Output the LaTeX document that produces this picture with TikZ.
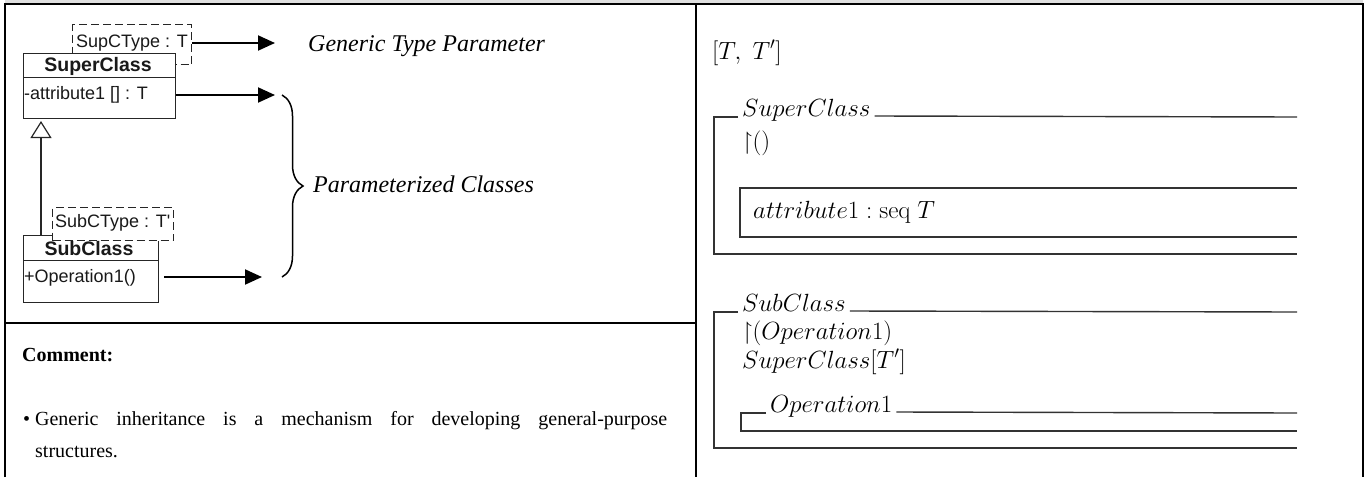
\documentclass[tikz,border=0pt]{standalone}
\usepackage{fontspec}
\usepackage{amssymb}
\usetikzlibrary{arrows.meta,decorations.pathreplacing}
\newfontfamily\umlfont{Liberation Sans}
\newfontfamily\seriffont{Liberation Serif}
\newcommand{\zfilt}{\mathord{\upharpoonright}}
\begin{document}
\begin{tikzpicture}[x=1pt,y=-1pt,
  frame/.style={line width=2pt,black},
  umlbox/.style={draw=black!85,line width=1pt,fill=white,inner sep=0pt},
  tmplbox/.style={draw=black!85,line width=1pt,fill=white,dash pattern=on 8pt off 4pt,inner sep=0pt},
  umltext/.style={font=\umlfont\fontsize{18}{20}\selectfont,inner sep=0pt,text=black!90},
  umlbold/.style={font=\umlfont\bfseries\fontsize{19.5}{22}\selectfont,inner sep=0pt,text=black!90},
  note/.style={font=\seriffont\itshape\fontsize{24}{28}\selectfont,inner sep=0pt,anchor=west},
  flow/.style={line width=2pt,-{Triangle[length=17pt,width=15pt]}},
  inherit/.style={line width=1.2pt,draw=black!85,-{Triangle[open,length=17pt,width=21pt]}},
  zline/.style={draw=black!80,line width=1.4pt},
  ztext/.style={font=\fontsize{25}{30}\selectfont,inner sep=0pt,anchor=base west,text=black}]
\useasboundingbox (0,0) rectangle (1364,477);

% table frame
\fill[gray!25] (5,0) rectangle (1363,3);
\draw[frame] (5,477) -- (5,4) -- (1363,4) -- (1363,477);
\draw[frame] (695.5,4) -- (695.5,477);
\draw[frame] (5,323) -- (695.5,323);

% ---- UML class diagram ----
% template parameter of SuperClass
\node[tmplbox,anchor=north west,minimum width=119pt,minimum height=40pt] (supT) at (72,24) {};
\node[umltext,anchor=west] (supTlabel) at (76,43) {SupCType : T};
% SuperClass
\node[umlbox,anchor=north west,minimum width=152pt,minimum height=65pt] (sup) at (23,53) {};
\draw[draw=black!85,line width=1pt] (23,77) -- (175,77);
\node[umlbold] (supname) at (98,66) {SuperClass};
\node[umltext,anchor=west] (supattr) at (24,95) {-attribute1 [] : T};

% SubClass
\node[umlbox,anchor=north west,minimum width=135pt,minimum height=67pt] (sub) at (23,235) {};
\draw[draw=black!85,line width=1pt] (23,260) -- (158,260);
\node[tmplbox,anchor=north west,minimum width=121pt,minimum height=33pt] (subT) at (52,207) {};
\node[umltext,anchor=west] (subTlabel) at (55,223) {SubCType : T'};
\node[umlbold] (subname) at (89,249) {SubClass};
\node[umltext,anchor=west] (subop) at (24,278) {+Operation1()};

% generalisation
\coordinate (inhtip) at (41,121);
\draw[inherit] (inhtip |- sub.north) -- (inhtip);

% annotations
\coordinate (gtp) at (275,43);
\coordinate (pc1) at (275,95);
\coordinate (pc2) at (262,277);
\draw[flow] (supT.east |- gtp) -- (gtp);
\draw[flow] (sup.east |- pc1) -- (pc1);
\draw[flow] ([xshift=5pt]sub.east |- pc2) -- (pc2);
\node[note] (gtplabel) at (308,46) {Generic Type Parameter};
\coordinate (bracetop) at (282,95);
\coordinate (bracebot) at (282,277);
\draw[line width=1.5pt,decorate,decoration={brace,amplitude=21pt}] (bracetop) -- (bracebot);
\node[note] (pclabel) at (313,184) {Parameterized Classes};

% comment
\node[anchor=west,inner sep=0pt,font=\seriffont\bfseries\fontsize{20}{24}\selectfont] (cmt) at (22,355) {Comment:};
\node[anchor=north west,inner sep=0pt,text width=632pt,align=justify,
      font=\seriffont\fontsize{20}{32}\selectfont] (cmtbody) at (35,411)
  {\hyphenpenalty=10000\makebox[0pt][r]{\textbullet\hspace{5pt}}Generic inheritance is a mechanism for developing general-purpose\linebreak structures.};

% ---- Z specification ----
\node[ztext] (params) at (712,59) {$[T,\; T']$};

% SuperClass schema
\node[ztext] (zsup) at (742,116) {$SuperClass$};
\draw[zline] (738,117) -- (714,117) -- (714,254) -- (1297,254);
\draw[zline] ([xshift=4pt]zsup.base east) -- (1297,117);
\node[ztext] (zsupvis) at (742,149) {$\zfilt()$};
\draw[zline] (1297,188) -- (740,188) -- (740,237) -- (1297,237);
\node[ztext] (zattr) at (753,218) {$attribute1 : \mathrm{seq}\;T$};

% SubClass schema
\node[ztext] (zsub) at (742,311) {$SubClass$};
\draw[zline] (738,312) -- (714,312) -- (714,448) -- (1297,448);
\draw[zline] ([xshift=4pt]zsub.base east) -- (1297,312);
\node[ztext] (zsubvis) at (742,339) {$\zfilt(Operation1)$};
\node[ztext] (zinh) at (742,368) {$SuperClass[T']$};
\node[ztext] (zop) at (770,412) {$Operation1$};
\draw[zline] (766,413) -- (741,413) -- (741,431) -- (1297,431);
\draw[zline] ([xshift=4pt]zop.base east) -- (1297,413);
\end{tikzpicture}
\end{document}
